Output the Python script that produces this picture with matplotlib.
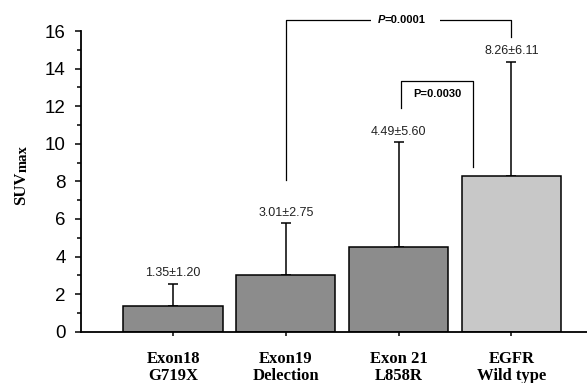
import matplotlib
matplotlib.use("Agg")
import matplotlib.pyplot as plt
import numpy as np

categories = ["Exon18\nG719X", "Exon19\nDelection", "Exon 21\nL858R", "EGFR\nWild type"]
means = [1.35, 3.01, 4.49, 8.26]
sds = [1.20, 2.75, 5.60, 6.11]
value_labels = ["1.35±1.20", "3.01±2.75", "4.49±5.60", "8.26±6.11"]
bar_colors = ["#8c8c8c", "#8c8c8c", "#8c8c8c", "#c8c8c8"]
p_values = ["=0.0001", "P=0.0030"]

SANS = "Liberation Sans"
SERIF = "Liberation Serif"

fig = plt.figure(figsize=(5.87, 3.83), dpi=100)
ax = fig.add_axes([0.138, 0.134, 0.862, 0.785])

x = np.arange(len(categories))
ax.bar(x, means, width=0.88, color=bar_colors, edgecolor="black", linewidth=1.1, zorder=2)
ax.errorbar(x, means, yerr=[np.zeros(len(sds)), sds], fmt="none", ecolor="black",
            elinewidth=1.1, capsize=3.5, capthick=1.1, zorder=1)

for xi, m, s, lab in zip(x, means, sds, value_labels):
    ax.text(xi, m + s + 0.55, lab, ha="center", va="center", fontsize=9,
            family=SANS, color="#222222")

ax.set_xlim(-0.816, 3.67)
ax.set_ylim(0, 16)
ax.set_yticks(np.arange(0, 17, 2))
ax.set_yticks(np.arange(1, 16, 2), minor=True)
ax.set_xticks(x)
ax.set_xticklabels(categories, family=SERIF, fontweight="bold", fontsize=12, linespacing=1.05)
for lab in ax.get_yticklabels():
    lab.set_family(SANS)
    lab.set_fontsize(13.5)
ax.tick_params(axis="y", which="major", direction="out", length=4, width=1.1, pad=7)
ax.tick_params(axis="y", which="minor", direction="out", length=3, width=1.1)
ax.tick_params(axis="x", which="major", direction="out", length=3, width=1.1, pad=11)
for sp in ["top", "right"]:
    ax.spines[sp].set_visible(False)
for sp in ["left", "bottom"]:
    ax.spines[sp].set_linewidth(1.3)

# bracket: Exon19 vs Wild type
lw_b = 0.9
top1 = 16.58
ax.plot([1, 1, 3, 3], [8.07, top1, top1, 15.67], color="black", lw=lw_b, clip_on=False)
t_main = ax.text(1.98 + 0.08, top1, p_values[0], ha="center", va="center", fontsize=8,
                 family=SANS, fontweight="bold", clip_on=False,
                 bbox=dict(facecolor="white", edgecolor="none", pad=10))
ax.annotate("P", xy=(0, 0.5), xycoords=t_main, ha="right", va="center", fontsize=8,
            family=SANS, fontweight="bold", fontstyle="italic", annotation_clip=False)

# bracket: Exon21 vs Wild type
top2 = 13.35
ax.plot([2.02, 2.02, 2.66, 2.66], [11.9, top2, top2, 8.76], color="black", lw=lw_b, clip_on=False)
ax.text(2.34, 12.63, p_values[1], ha="center", va="center", fontsize=8,
        family=SANS, fontweight="bold")

# y label: SUVmax
t1 = fig.text(0.043, 1 - 205 / 383, "SUV", rotation=90, rotation_mode="anchor",
              ha="left", va="baseline", family=SERIF, fontweight="bold", fontsize=12)
fig.canvas.draw()
bb = t1.get_window_extent()
fig.text(0.043 + 1.0 / 587, bb.y1 / fig.bbox.height, "max", rotation=90, rotation_mode="anchor",
         ha="left", va="baseline", family=SERIF, fontweight="bold", fontsize=10.5)

fig.savefig("out.png", dpi=100)
